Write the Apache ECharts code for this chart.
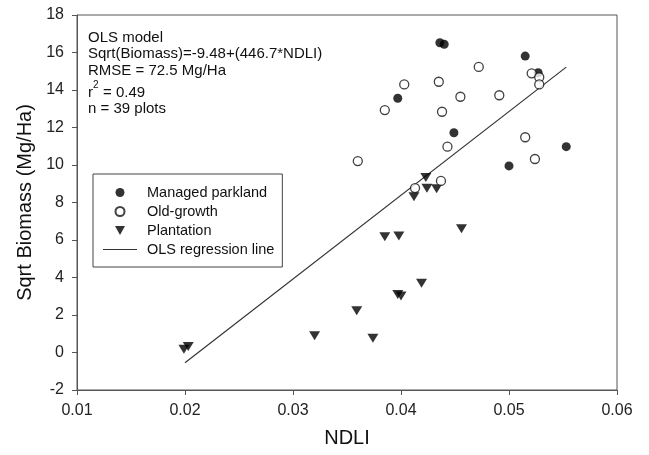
<!DOCTYPE html>
<html>
<head>
<meta charset="utf-8">
<script src="https://cdn.jsdelivr.net/npm/echarts@6/dist/echarts.min.js"></script>
<style>
html, body { margin: 0; padding: 0; background: #fff; }
#chart { width: 649px; height: 455px; }
</style>
</head>
<body>
<div id="chart"></div>
<script>
// managed parkland (filled circles)
const parklandX = [0.0436, 0.0440, 0.0515, 0.0527, 0.0397, 0.0449, 0.0553, 0.0500];
const parklandY = [16.52, 16.44, 15.81, 14.92, 13.56, 11.72, 10.98, 9.95];
// old-growth (open circles)
const oldGrowthX = [0.0472, 0.0521, 0.0528, 0.0528, 0.0403, 0.0435, 0.0385, 0.0455, 0.0491, 0.0438, 0.0515, 0.0443, 0.0360, 0.0524, 0.0413, 0.0437];
const oldGrowthY = [15.23, 14.89, 14.68, 14.30, 14.30, 14.44, 12.93, 13.64, 13.72, 12.84, 11.48, 10.98, 10.21, 10.32, 8.77, 9.15];
// plantation (down triangles)
const plantationX = [0.0423, 0.0424, 0.0433, 0.0412, 0.0456, 0.0385, 0.0398, 0.0419, 0.0397, 0.0400, 0.0359, 0.0374, 0.0199, 0.0203, 0.0320];
const plantationY = [9.34, 8.76, 8.74, 8.31, 6.60, 6.18, 6.21, 3.69, 3.10, 3.02, 2.23, 0.76, 0.18, 0.32, 0.90];
// OLS regression line end points
const regX = [0.0200, 0.0553];
const regY = [-0.55, 15.22];

const xTicks = [0.01, 0.02, 0.03, 0.04, 0.05, 0.06];
const yTicks = [-2, 0, 2, 4, 6, 8, 10, 12, 14, 16, 18];

const modelLines = ['OLS model', 'Sqrt(Biomass)=-9.48+(446.7*NDLI)', 'RMSE = 72.5 Mg/Ha'];

const font = '"Liberation Sans", Arial, sans-serif';
const pair = (xs, ys) => xs.map((x, i) => [x, ys[i]]);

let myChart = echarts.init(document.getElementById('chart'));

let option = {
  animation: false,
  textStyle: { fontFamily: font },
  grid: {
    left: 77, right: 32, top: 15, bottom: 65,
    show: true,
    borderColor: '#555',
    borderWidth: 1
  },
  xAxis: {
    type: 'value',
    min: xTicks[0],
    max: xTicks[xTicks.length - 1],
    interval: 0.01,
    name: 'NDLI',
    nameLocation: 'middle',
    nameGap: 38,
    nameTextStyle: { fontSize: 20, color: '#111', fontFamily: font },
    axisLine: { onZero: false, lineStyle: { color: '#555', width: 1 } },
    axisTick: { inside: false, length: 5, lineStyle: { color: '#555' } },
    axisLabel: {
      fontSize: 16, color: '#222', margin: 13, fontFamily: font,
      formatter: v => v.toFixed(2)
    },
    splitLine: { show: false }
  },
  yAxis: {
    type: 'value',
    min: yTicks[0],
    max: yTicks[yTicks.length - 1],
    interval: 2,
    name: 'Sqrt Biomass (Mg/Ha)',
    nameLocation: 'middle',
    nameGap: 40,
    nameTextStyle: { fontSize: 20, color: '#111', fontFamily: font },
    axisLine: { onZero: false, lineStyle: { color: '#555', width: 1 } },
    axisTick: { inside: false, length: 5, lineStyle: { color: '#555' } },
    axisLabel: { fontSize: 16, color: '#222', margin: 13, fontFamily: font },
    splitLine: { show: false }
  },
  legend: {
    orient: 'vertical',
    left: 93,
    top: 174,
    padding: [11, 8, 10, 10],
    itemGap: 4,
    itemWidth: 34,
    itemHeight: 9,
    borderColor: '#444',
    borderWidth: 1,
    borderRadius: 0,
    textStyle: { fontSize: 14.5, color: '#111', lineHeight: 15, padding: [0, 0, 0, 5], fontFamily: font },
    data: [
      { name: 'Managed parkland', icon: 'circle' },
      { name: 'Old-growth', icon: 'circle' },
      { name: 'Plantation', icon: 'path://M0,0 L10,0 L5,9 Z' },
      { name: 'OLS regression line', icon: 'path://M0,0 L34,0 L34,1.2 L0,1.2 Z' }
    ]
  },
  graphic: [
    ...modelLines.map((t, i) => ({
      type: 'text', left: 88, top: 30 + i * 16.7,
      style: { text: t, font: '15px ' + font, fill: '#111' }
    })),
    { type: 'text', left: 88, top: 85, style: { text: 'r', font: '15px ' + font, fill: '#111' } },
    { type: 'text', left: 93, top: 80, style: { text: '2', font: '10px ' + font, fill: '#111' } },
    { type: 'text', left: 103, top: 85, style: { text: '= 0.49', font: '15px ' + font, fill: '#111' } },
    { type: 'text', left: 88, top: 101, style: { text: 'n = 39 plots', font: '15px ' + font, fill: '#111' } }
  ],
  series: [
    {
      name: 'OLS regression line',
      type: 'line',
      data: pair(regX, regY),
      symbol: 'none',
      itemStyle: { color: '#333' },
      lineStyle: { color: '#333', width: 1.2 },
      z: 1
    },
    {
      name: 'Managed parkland',
      type: 'scatter',
      data: pair(parklandX, parklandY),
      symbol: 'circle',
      symbolSize: 9,
      itemStyle: { color: '#000' },
      z: 3
    },
    {
      name: 'Old-growth',
      type: 'scatter',
      data: pair(oldGrowthX, oldGrowthY),
      symbol: 'circle',
      symbolSize: 9,
      itemStyle: { color: '#fff', borderColor: '#111', borderWidth: 1.3 },
      z: 4
    },
    {
      name: 'Plantation',
      type: 'scatter',
      data: pair(plantationX, plantationY),
      symbol: 'triangle',
      symbolRotate: 180,
      symbolSize: [11, 9],
      itemStyle: { color: '#000' },
      z: 3
    }
  ]
};

myChart.setOption(option);
</script>
</body>
</html>
